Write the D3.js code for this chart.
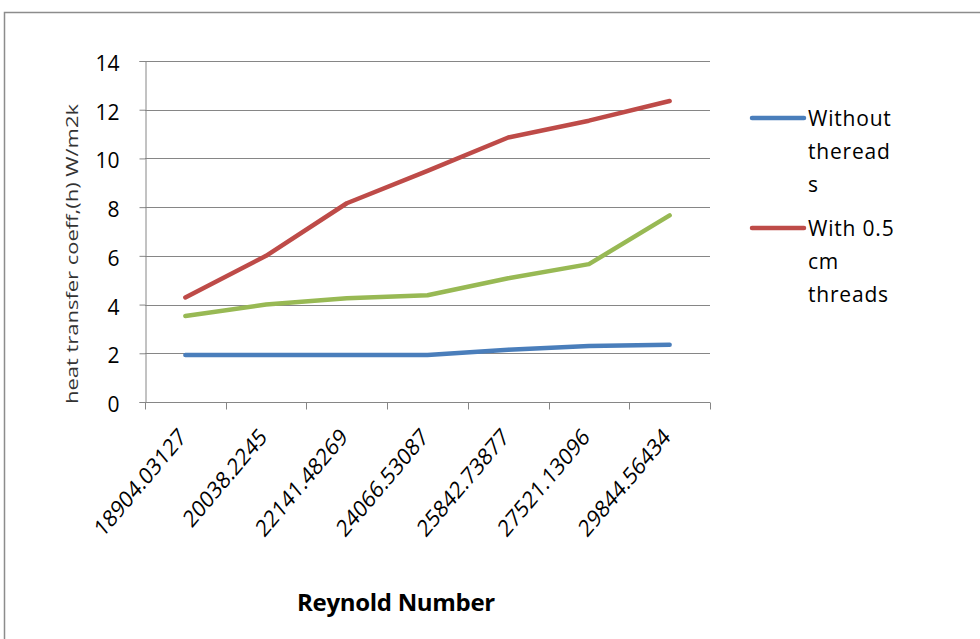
<!DOCTYPE html>
<html>
<head>
<meta charset="utf-8">
<script src="https://cdn.jsdelivr.net/npm/d3@7"></script>
<style>
  body { margin: 0; background: #fff; }
  text { font-family: "Open Sans", "Noto Sans", sans-serif; }
</style>
</head>
<body>
<svg id="chart"></svg>
<script>
// Chart data
const reynolds = ["18904.03127", "20038.2245", "22141.48269", "24066.53087", "25842.73877", "27521.13096", "29844.56434"];
const withoutThreads = [1.93, 1.93, 1.93, 1.93, 2.15, 2.3, 2.35];
const withThreads = [4.29, 6.0, 8.16, 9.49, 10.86, 11.55, 12.36];
const thirdSeries = [3.53, 4.0, 4.26, 4.38, 5.08, 5.66, 7.66];
const yTicks = [0, 2, 4, 6, 8, 10, 12, 14];

const width = 980;
const height = 639;
const margin = { top: 61, right: 270, bottom: 237, left: 145 };

const svg = d3.select("#chart")
    .attr("width", width)
    .attr("height", height);

// outer frame
svg.append("rect")
    .attr("x", 4.5).attr("y", 12.5)
    .attr("width", 1000).attr("height", 700)
    .attr("fill", "none")
    .attr("stroke", "#8c8c8c")
    .attr("stroke-width", 1.5);

const xScale = d3.scaleBand()
    .domain(reynolds)
    .range([margin.left, width - margin.right]);

const yScale = d3.scaleLinear()
    .domain([0, 14])
    .range([height - margin.bottom, margin.top]);

// gridlines
svg.append("g")
    .selectAll("line")
    .data(yTicks.filter(d => d > 0))
    .enter()
    .append("line")
    .attr("x1", margin.left)
    .attr("x2", width - margin.right)
    .attr("y1", d => Math.round(yScale(d)) + 0.5)
    .attr("y2", d => Math.round(yScale(d)) + 0.5)
    .attr("stroke", "#868686")
    .attr("stroke-width", 1);

// y axis
const yAxis = d3.axisLeft(yScale).tickValues(yTicks).tickSize(6).tickPadding(20);
const gy = svg.append("g")
    .attr("transform", `translate(${margin.left + 0.5}, 0)`)
    .call(yAxis);
gy.selectAll("path, line").attr("stroke", "#868686");
gy.selectAll("text").attr("font-size", 21).attr("dy", "0.45em").attr("fill", "#000");

// x axis with ticks on category boundaries
const gx = svg.append("g")
    .attr("transform", `translate(0, ${height - margin.bottom + 0.5})`);
gx.append("line")
    .attr("x1", margin.left).attr("x2", width - margin.right)
    .attr("stroke", "#868686");
gx.selectAll(".tick")
    .data(reynolds.concat(["end"]))
    .enter()
    .append("line")
    .attr("x1", (d, i) => Math.round(margin.left + i * xScale.step()) + 0.5)
    .attr("x2", (d, i) => Math.round(margin.left + i * xScale.step()) + 0.5)
    .attr("y1", 0).attr("y2", 7)
    .attr("stroke", "#868686");
gx.selectAll(".label")
    .data(reynolds)
    .enter()
    .append("text")
    .attr("transform", d => `translate(${xScale(d) + xScale.bandwidth() / 2 + 2}, 36) scale(1, 1.18) rotate(-45)`)
    .attr("text-anchor", "end")
    .attr("font-size", 20)
    .attr("fill", "#000")
    .text(d => d);

// lines
const line = d3.line()
    .x((d, i) => xScale(reynolds[i]) + xScale.bandwidth() / 2)
    .y(d => yScale(d));

const series = [
    { name: "Without threads", values: withoutThreads, color: "#4a7ebb" },
    { name: "With 0.5 cm threads", values: withThreads, color: "#be4b48" },
    { name: "third", values: thirdSeries, color: "#98b954" }
];

svg.append("g")
    .selectAll("path")
    .data(series)
    .enter()
    .append("path")
    .attr("d", d => line(d.values))
    .attr("fill", "none")
    .attr("stroke", d => d.color)
    .attr("stroke-width", 4.5)
    .attr("stroke-linejoin", "round")
    .attr("stroke-linecap", "round");

// legend
const legendItems = [
    { color: "#4a7ebb", y: 118, lines: ["Without", "theread", "s"] },
    { color: "#be4b48", y: 228, lines: ["With 0.5", "cm", "threads"] }
];
const legend = svg.append("g");
legendItems.forEach(item => {
    legend.append("line")
        .attr("x1", 752).attr("x2", 804)
        .attr("y1", item.y).attr("y2", item.y)
        .attr("stroke", item.color)
        .attr("stroke-width", 4.5)
        .attr("stroke-linecap", "round");
    item.lines.forEach((t, i) => {
        legend.append("text")
            .attr("x", 808)
            .attr("y", item.y + 8 + i * 33)
            .attr("font-size", 21)
            .attr("letter-spacing", 0.8)
            .attr("fill", "#000")
            .text(t);
    });
});

// axis titles
svg.append("text")
    .attr("x", 396)
    .attr("y", 611)
    .attr("text-anchor", "middle")
    .attr("font-size", 24)
    .attr("font-weight", "bold")
    .attr("letter-spacing", -0.3)
    .attr("fill", "#000")
    .text("Reynold Number");

svg.append("text")
    .attr("transform", "translate(72, 254) rotate(-90)")
    .attr("x", -150)
    .attr("dy", "0.35em")
    .attr("font-size", 17)
    .attr("textLength", 300)
    .attr("lengthAdjust", "spacingAndGlyphs")
    .attr("fill", "#333")
    .text("heat transfer coeff,(h) W/m2k");
</script>
</body>
</html>
